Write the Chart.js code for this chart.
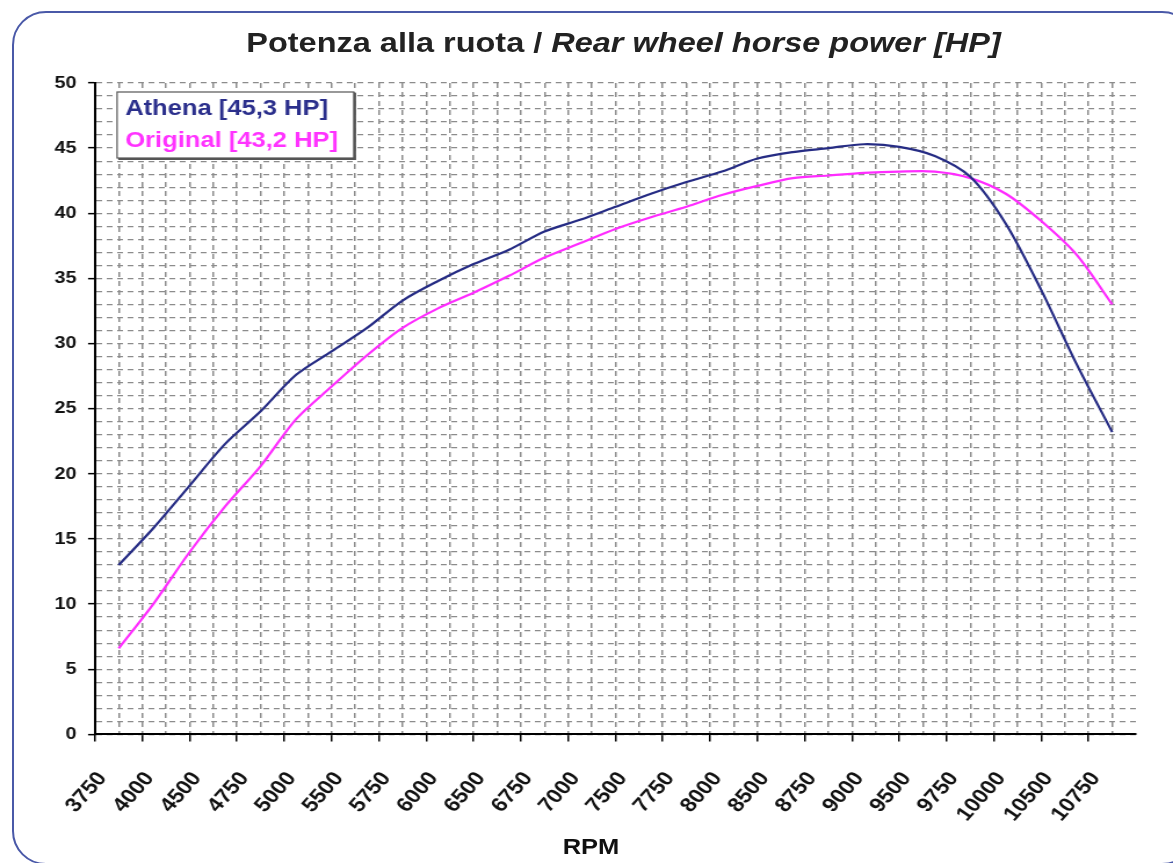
<!DOCTYPE html>
<html>
<head>
<meta charset="utf-8">
<title>Potenza alla ruota</title>
<script src="https://cdn.jsdelivr.net/npm/chart.js@4.4.1/dist/chart.umd.min.js"></script>
<style>
  body { margin: 0; background: #fff; }
  #wrap { position: relative; width: 1173px; height: 863px; overflow: hidden; font-family: 'Liberation Sans', Arial, sans-serif; }
  #frame { position: absolute; left: 12px; top: 11px; width: 1180px; height: 850px; border: 2.5px solid #4a59a8; border-radius: 34px; pointer-events: none; }
  #title { position: absolute; left: 37px; top: 27px; width: 1173px; text-align: center; font-size: 28px; font-weight: bold; color: #222; transform: scaleX(1.16); white-space: nowrap; }
  #xtitle { position: absolute; left: 491px; top: 834px; width: 200px; text-align: center; font-size: 22px; font-weight: bold; color: #111; transform: scaleX(1.16); }
  #c { position: absolute; left: 0; top: 0; }
</style>
</head>
<body>
<div id="wrap">
  <canvas id="c" width="1011" height="863" style="width:1173px;height:863px"></canvas>
  <div id="frame"></div>
  <div id="title">Potenza alla ruota / <i>Rear wheel horse power [HP]</i></div>
  <div id="xtitle">RPM</div>
</div>
<script>
// --- Data ---
const rpm = [3750, 4000, 4250, 4500, 4750, 5000, 5250, 5500, 5750, 6000, 6250, 6500, 6750, 7000, 7250,
             7500, 7750, 8000, 8250, 8500, 8750, 9000, 9250, 9500, 9750, 10000, 10250, 10500, 10750];
const athenaHp = [13.0, 15.9, 19.1, 22.3, 24.8, 27.6, 29.4, 31.2, 33.3, 34.8, 36.1, 37.2, 38.6, 39.5, 40.5,
                  41.5, 42.4, 43.2, 44.2, 44.7, 45.0, 45.3, 45.1, 44.4, 42.8, 39.2, 34.1, 28.4, 23.2];
const originalHp = [6.6, 10.1, 14.0, 17.5, 20.6, 24.2, 26.7, 29.1, 31.2, 32.7, 33.9, 35.2, 36.6, 37.7, 38.8,
                    39.7, 40.5, 41.4, 42.1, 42.7, 42.9, 43.1, 43.2, 43.2, 42.7, 41.5, 39.4, 36.8, 33.0];
const tickLabels = ['3750', '4000', '4500', '4750', '5000', '5500', '5750', '6000', '6500', '6750', '7000',
                    '7500', '7750', '8000', '8500', '8750', '9000', '9500', '9750', '10000', '10500', '10750'];
const seriesNames = ['Athena [45,3 HP]', 'Original [43,2 HP]'];

// label slots: one per tick label, grid at slot edges and centres
const slot = (rpm[rpm.length - 1] - rpm[0]) / (tickLabels.length - 1);
const xMin = rpm[0] - slot / 2;
const xMax = rpm[rpm.length - 1] + slot / 2;

const FONT = "'Liberation Sans', Arial, sans-serif";
const GRID = '#8c8c8c';

// --- Legend box drawn inside the plot ---
const legendBox = {
    id: 'legendBox',
    afterDraw(chart) {
        const { ctx, chartArea } = chart;
        const x = chartArea.left + 19, y = chartArea.top + 9, w = 204, h = 66;
        ctx.save();
        ctx.fillStyle = '#fff';
        ctx.fillRect(x, y, w, h);
        ctx.strokeStyle = '#555';
        ctx.lineWidth = 1.2;
        ctx.strokeRect(x, y, w, h);
        ctx.lineWidth = 2;
        ctx.beginPath();
        ctx.moveTo(x + 1, y + h + 1); ctx.lineTo(x + w + 1, y + h + 1); ctx.lineTo(x + w + 1, y + 1);
        ctx.stroke();
        ctx.font = 'bold 22px ' + FONT;
        ctx.textBaseline = 'middle';
        chart.data.datasets.forEach((ds, i) => {
            ctx.fillStyle = ds.legendColor;
            ctx.fillText(ds.label, x + 7, y + 17 + i * 32);
        });
        ctx.restore();
    }
};

const canvas = document.getElementById('c');
const chart = new Chart(canvas.getContext('2d'), {
    type: 'line',
    data: {
        datasets: [
            { label: seriesNames[0], data: rpm.map((r, i) => ({ x: r, y: athenaHp[i] })),
              borderColor: '#262c84', legendColor: '#2b2f8c', borderWidth: 2.2, pointRadius: 0, tension: 0.3 },
            { label: seriesNames[1], data: rpm.map((r, i) => ({ x: r, y: originalHp[i] })),
              borderColor: '#ff2cff', legendColor: '#ff33ff', borderWidth: 2.2, pointRadius: 0, tension: 0.3 }
        ]
    },
    options: {
        responsive: false,
        animation: false,
        layout: { padding: { left: 37, right: 32, top: 83, bottom: 11 } },
        plugins: { legend: { display: false }, tooltip: { enabled: false } },
        scales: {
            x: {
                type: 'linear',
                min: xMin,
                max: xMax,
                afterBuildTicks: axis => {
                    const t = [];
                    for (let i = 0; i <= tickLabels.length * 2; i++) t.push({ value: xMin + i * slot / 2 });
                    axis.ticks = t;
                },
                ticks: {
                    autoSkip: false,
                    minRotation: 52,
                    maxRotation: 52,
                    labelOffset: -14,
                    padding: 26,
                    color: '#111',
                    font: { family: FONT, size: 20, weight: 'bold' },
                    // the last edge tick gets no label so it does not reserve room on the right
                    callback: (v, i) => (i % 2 ? tickLabels[(i - 1) / 2] : (i === tickLabels.length * 2 ? null : ''))
                },
                grid: {
                    color: GRID,
                    lineWidth: 1.5,
                    tickLength: 7,
                    tickWidth: 1.5,
                    tickColor: c => (c.index % 2 ? 'rgba(0,0,0,0)' : '#000')
                },
                border: { display: true, color: '#000', width: 2, dash: [5, 4] }
            },
            y: {
                min: 0,
                max: 50,
                afterBuildTicks: axis => {
                    const t = [];
                    for (let v = 0; v <= 50; v++) t.push({ value: v });
                    axis.ticks = t;
                },
                ticks: {
                    autoSkip: false,
                    padding: 10,
                    color: '#111',
                    font: { family: FONT, size: 17, weight: 'bold' },
                    callback: v => (v % 5 === 0 ? v : '')
                },
                grid: {
                    color: GRID,
                    lineWidth: 1.3,
                    tickLength: 6,
                    tickWidth: 1.5,
                    tickColor: c => (c.tick && c.tick.value % 5 === 0 ? '#000' : 'rgba(0,0,0,0)')
                },
                border: { display: true, color: '#000', width: 2, dash: [5, 4] }
            }
        }
    },
    plugins: [legendBox]
});
// stretch the drawing horizontally like the source image
canvas.style.width = '1173px';
canvas.style.height = '863px';
</script>
</body>
</html>
